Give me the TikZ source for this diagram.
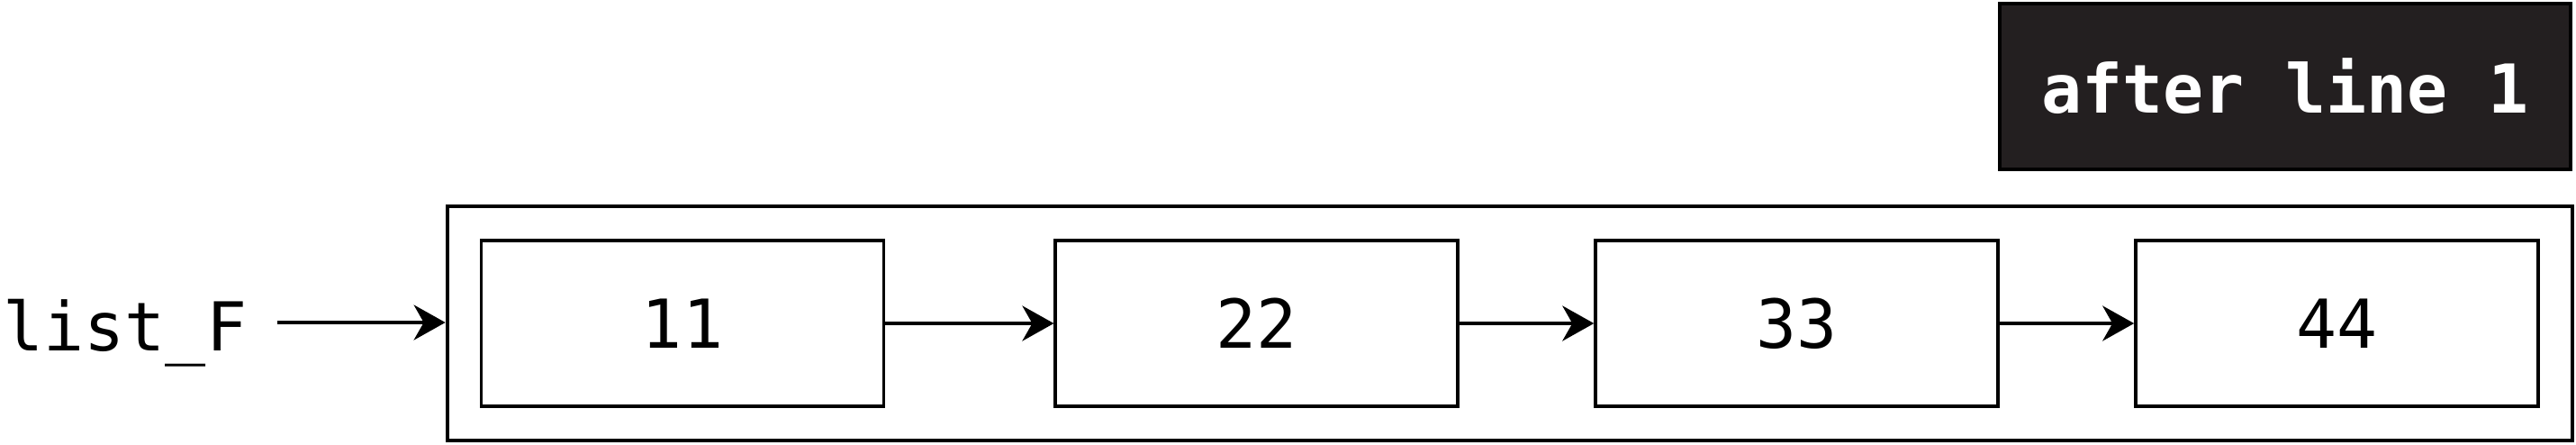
\documentclass[tikz,border=0pt]{standalone}
\usepackage{fontspec}
\setmonofont{DejaVu Sans Mono}
\usetikzlibrary{arrows.meta, positioning, fit}
\definecolor{labelblack}{HTML}{231F20}

\begin{document}
\begin{tikzpicture}[
  every node/.style={font=\ttfamily\fontsize{21.3}{25}\selectfont},
  link/.style={draw, -{Stealth[length=3.5mm, width=3.9mm, inset=1.1mm]}, line width=1.1pt},
  cell/.style={rectangle, draw, line width=1.1pt, minimum width=4.47cm, minimum height=1.84cm},
  frame/.style={rectangle, draw, line width=1.1pt, inner sep=0.36cm},
  tag/.style={rectangle, draw, line width=1.1pt, fill=labelblack, text=white,
              font=\ttfamily\bfseries\fontsize{21.3}{25}\selectfont,
              minimum width=6.34cm, minimum height=1.84cm},
]
  \useasboundingbox (0,0) rectangle (28.61,-4.93);

  % list cells
  \node[cell] (c11) at (7.58,-3.59) {11};
  \node[cell, right=1.87cm of c11] (c22) {22};
  \node[cell, right=1.49cm of c22] (c33) {33};
  \node[cell, right=1.49cm of c33] (c44) {44};
  \node[frame, fit=(c11) (c44)] (listbox) {};

  % name and caption
  \node[anchor=base west, inner sep=0pt] (name) at (0.03,-3.89) {list\_F};
  \coordinate (start) at (3.08,-3.58);
  \node[tag] (caption) at (25.38,-0.96) {after line 1};

  \draw[link] (start) -- (listbox.west |- start);
  \draw[link] (c11) -- (c22);
  \draw[link] (c22) -- (c33);
  \draw[link] (c33) -- (c44);
\end{tikzpicture}
\end{document}
